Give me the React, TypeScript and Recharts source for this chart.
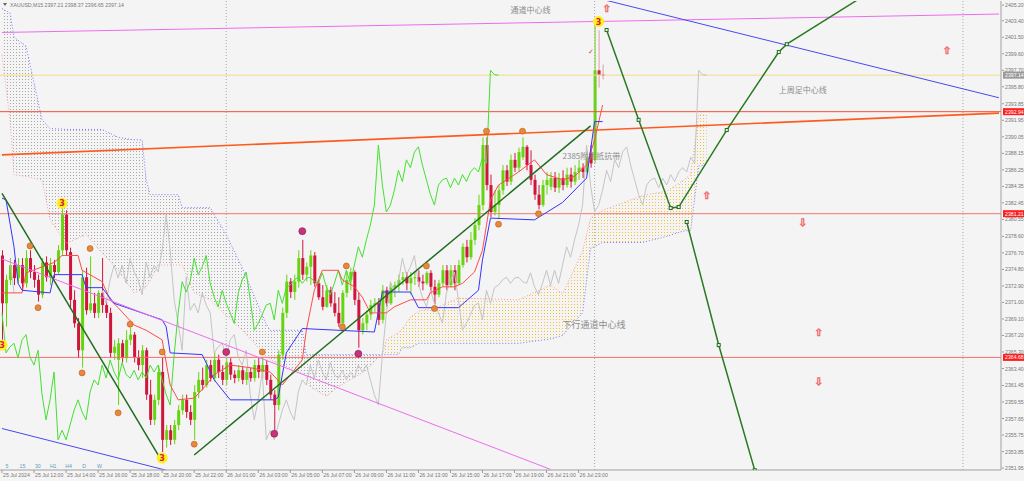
import React from 'react';
import { ComposedChart, Bar, Line, Area, XAxis, YAxis, ReferenceLine, ReferenceDot } from 'recharts';

// XAUUSD M15, 25 Jul 10:00 .. 26 Jul, plus 26-bar ichimoku shift to the right
const SLOTS = 250;

const OPEN = [
  2376.4, 2370.9, 2373.6, 2375.3, 2373.8, 2375.3, 2373.2, 2376.1, 2374.5, 2373.6,
  2371.9, 2375.6, 2373.9, 2375.3, 2374.5, 2377.0, 2381.1, 2376.8, 2371.3, 2368.6,
  2365.5, 2373.9, 2370.1, 2370.9, 2369.8, 2372.1, 2370.7, 2369.8, 2365.2, 2364.4,
  2366.3, 2364.6, 2366.7, 2367.3, 2364.7, 2363.8, 2365.5, 2360.4, 2357.5, 2359.8,
  2363.0, 2355.2, 2356.3, 2355.2, 2356.9, 2358.6, 2359.8, 2358.4, 2357.5, 2360.7,
  2362.1, 2361.5, 2363.8, 2362.3, 2364.4, 2363.0, 2362.1, 2364.1, 2362.7, 2362.3,
  2363.2, 2362.1, 2363.0, 2362.3, 2363.8, 2363.0, 2363.8, 2362.1, 2360.4, 2359.2,
  2365.0, 2369.8, 2373.4, 2372.2, 2373.4, 2376.1, 2374.2, 2375.1, 2376.4, 2373.2,
  2371.6, 2370.5, 2372.4, 2370.9, 2369.8, 2368.6, 2372.1, 2373.6, 2374.5, 2371.3,
  2367.8, 2368.6, 2369.6, 2370.7, 2370.9, 2369.0, 2372.4, 2370.9, 2372.7, 2373.0,
  2373.6, 2373.9, 2373.2, 2373.8, 2373.9, 2373.4, 2373.2, 2374.4, 2372.8, 2371.9,
  2373.2, 2374.7, 2373.0, 2374.7, 2373.2, 2375.3, 2377.4, 2376.2, 2378.2, 2379.9,
  2382.2, 2389.1, 2384.5, 2381.4, 2382.2, 2383.9, 2386.2, 2384.9, 2387.4, 2386.5,
  2387.7, 2388.9, 2386.8, 2385.1, 2383.4, 2382.2, 2384.5, 2384.3, 2385.3, 2384.2,
  2385.3, 2384.5, 2385.7, 2384.9, 2386.0, 2386.5, 2386.0, 2388.2, 2387.4, 2397.7,
  2397.21,
];
const HIGH = [
  2377.0, 2374.2, 2376.1, 2375.9, 2376.1, 2376.1, 2377.0, 2377.0, 2375.3, 2374.2,
  2376.1, 2376.3, 2376.1, 2375.9, 2377.6, 2382.0, 2381.6, 2377.3, 2372.4, 2369.2,
  2374.7, 2375.0, 2376.3, 2372.1, 2372.4, 2376.1, 2371.3, 2370.4, 2366.7, 2366.9,
  2366.7, 2367.8, 2368.1, 2367.6, 2365.5, 2366.1, 2365.8, 2362.1, 2360.4, 2363.8,
  2364.7, 2356.9, 2356.9, 2357.5, 2359.2, 2360.4, 2360.4, 2359.2, 2361.5, 2363.0,
  2363.5, 2364.4, 2364.4, 2365.3, 2365.0, 2363.8, 2364.7, 2364.6, 2363.2, 2363.8,
  2363.7, 2363.5, 2363.5, 2364.4, 2364.6, 2364.7, 2364.4, 2362.7, 2360.9, 2365.5,
  2370.4, 2374.2, 2373.8, 2374.2, 2377.0, 2378.2, 2375.6, 2377.0, 2376.8, 2373.6,
  2373.0, 2373.0, 2372.8, 2372.2, 2371.6, 2372.4, 2374.6, 2375.0, 2374.7, 2372.1,
  2369.2, 2370.1, 2371.3, 2371.5, 2371.5, 2373.0, 2372.8, 2373.2, 2373.4, 2374.2,
  2374.5, 2374.5, 2374.5, 2374.5, 2374.7, 2374.2, 2374.6, 2374.7, 2373.6, 2373.6,
  2375.3, 2375.3, 2375.3, 2375.3, 2375.9, 2377.8, 2378.2, 2379.1, 2380.7, 2383.4,
  2390.0, 2390.0, 2385.7, 2383.9, 2384.5, 2386.8, 2386.8, 2388.0, 2388.2, 2388.8,
  2390.0, 2389.1, 2388.5, 2385.7, 2384.5, 2385.1, 2386.0, 2386.0, 2386.0, 2385.9,
  2386.2, 2386.5, 2386.5, 2386.8, 2387.4, 2387.0, 2388.5, 2389.1, 2402.9, 2402.3,
  2398.37,
];
const LOW = [
  2366.7, 2368.2, 2373.0, 2373.0, 2373.2, 2372.4, 2372.7, 2373.8, 2372.7, 2371.1,
  2371.5, 2373.4, 2373.0, 2373.8, 2374.2, 2376.4, 2376.4, 2370.4, 2368.1, 2364.6,
  2363.5, 2369.6, 2369.8, 2369.2, 2369.2, 2369.8, 2369.2, 2364.6, 2364.4, 2359.2,
  2364.1, 2364.1, 2366.1, 2364.1, 2363.2, 2362.3, 2359.8, 2356.9, 2356.9, 2359.2,
  2353.8, 2354.3, 2354.6, 2354.7, 2356.3, 2358.1, 2357.7, 2356.9, 2355.2, 2360.0,
  2360.9, 2361.2, 2361.9, 2361.9, 2362.3, 2361.5, 2361.5, 2362.1, 2361.7, 2361.9,
  2361.6, 2361.5, 2361.9, 2361.9, 2362.3, 2362.3, 2361.5, 2359.8, 2356.3, 2358.6,
  2364.4, 2369.2, 2371.5, 2371.3, 2372.7, 2373.6, 2373.4, 2373.0, 2372.8, 2371.3,
  2370.1, 2370.4, 2370.5, 2369.4, 2368.2, 2368.6, 2371.6, 2372.4, 2370.7, 2365.8,
  2367.3, 2367.8, 2369.0, 2369.9, 2368.4, 2368.6, 2370.5, 2370.7, 2371.6, 2372.2,
  2373.0, 2372.4, 2371.9, 2373.0, 2372.8, 2372.4, 2373.0, 2372.2, 2370.8, 2371.6,
  2372.8, 2372.4, 2372.7, 2372.4, 2373.0, 2375.0, 2375.6, 2375.9, 2377.6, 2379.3,
  2381.6, 2383.9, 2380.8, 2381.0, 2380.6, 2383.4, 2384.4, 2384.5, 2386.0, 2386.0,
  2387.4, 2386.2, 2384.5, 2382.8, 2381.7, 2382.0, 2383.4, 2383.9, 2383.7, 2383.6,
  2383.9, 2384.2, 2384.2, 2384.5, 2385.1, 2385.3, 2385.7, 2386.5, 2387.0, 2395.7,
  2396.65,
];
const CLOSE = [
  2370.9, 2373.6, 2375.3, 2373.8, 2375.3, 2373.2, 2376.1, 2374.5, 2373.6, 2371.9,
  2375.6, 2373.9, 2375.3, 2374.5, 2377.0, 2381.1, 2377.0, 2371.3, 2368.6, 2365.5,
  2373.9, 2370.1, 2370.9, 2369.8, 2372.1, 2370.7, 2369.8, 2365.2, 2365.9, 2366.3,
  2364.6, 2366.7, 2367.3, 2364.7, 2363.8, 2365.5, 2360.4, 2357.5, 2359.8, 2363.0,
  2355.2, 2356.3, 2355.2, 2356.9, 2358.6, 2359.8, 2358.4, 2357.5, 2360.7, 2362.1,
  2361.5, 2363.8, 2362.3, 2364.4, 2363.0, 2362.1, 2364.1, 2362.7, 2362.3, 2363.2,
  2362.1, 2363.0, 2362.3, 2363.8, 2363.0, 2363.8, 2362.1, 2360.4, 2359.2, 2365.0,
  2369.8, 2373.4, 2372.2, 2373.4, 2376.1, 2374.2, 2375.1, 2376.4, 2373.2, 2371.6,
  2370.5, 2372.4, 2370.9, 2369.8, 2368.6, 2372.1, 2373.6, 2374.5, 2371.3, 2367.8,
  2368.6, 2369.6, 2370.7, 2370.9, 2369.0, 2372.4, 2370.9, 2372.7, 2373.0, 2373.6,
  2373.9, 2373.2, 2373.8, 2373.9, 2373.4, 2373.2, 2374.4, 2372.8, 2371.9, 2373.2,
  2374.7, 2373.0, 2374.7, 2373.2, 2375.3, 2377.4, 2376.2, 2378.2, 2379.9, 2382.2,
  2389.1, 2384.5, 2381.4, 2382.2, 2383.9, 2386.2, 2384.9, 2387.4, 2386.5, 2388.3,
  2388.9, 2386.8, 2385.1, 2383.4, 2382.2, 2384.5, 2385.1, 2385.3, 2384.2, 2385.3,
  2384.5, 2385.7, 2384.9, 2386.0, 2386.5, 2386.0, 2387.7, 2387.0, 2397.7, 2397.2,
  2397.14,
];
// closes from before the window, seen as the start of the forward-shifted grey line
const LAG_HISTORY = [
  [0, 2385.1], [2, 2376.0], [3, 2372.1], [6, 2375.0], [9, 2371.0], [12, 2373.5],
  [16, 2370.5], [19, 2372.8], [22, 2369.8], [25, 2372.4],
];

const X_LABELS = [
  '25 Jul 2024', '25 Jul 12:00', '25 Jul 14:00', '25 Jul 16:00', '25 Jul 18:00',
  '25 Jul 20:00', '25 Jul 22:00', '26 Jul 01:00', '26 Jul 03:00', '26 Jul 05:00',
  '26 Jul 07:00', '26 Jul 09:00', '26 Jul 11:00', '26 Jul 13:00', '26 Jul 15:00',
  '26 Jul 17:00', '26 Jul 19:00', '26 Jul 21:00', '26 Jul 23:00',
];
const Y_TICKS = [
  2405.2, 2403.4, 2401.5, 2399.6, 2397.7, 2395.8, 2393.85, 2391.95, 2390.05, 2388.15,
  2386.25, 2384.35, 2382.45, 2380.55, 2378.6, 2376.7, 2374.8, 2372.9, 2371.0, 2369.1,
  2367.2, 2365.3, 2363.4, 2361.45, 2359.55, 2357.65, 2355.75, 2353.85, 2351.95,
];
const PRICE_TAGS = [2397.14, 2392.94, 2381.21, 2364.68];

// ichimoku lines: [bar, price]
const TENKAN = [
  [0, 2372.1], [5, 2372.1], [6, 2374.4], [13, 2375.6], [15, 2376.4], [19, 2376.4], [20, 2374.7],
  [25, 2373.4], [27, 2371.3], [29, 2370.4], [33, 2368.4], [36, 2367.8], [40, 2366.7], [42, 2361.5],
  [44, 2359.8], [48, 2360.0], [51, 2361.5], [53, 2362.7], [57, 2363.8], [62, 2363.5], [67, 2363.0],
  [70, 2361.5], [75, 2364.4], [76, 2367.8], [78, 2372.4], [80, 2374.7], [84, 2374.7], [85, 2373.6],
  [88, 2372.8], [90, 2371.6], [92, 2369.8], [96, 2369.8], [98, 2370.5], [102, 2371.3], [106, 2371.3],
  [107, 2372.1], [110, 2372.8], [113, 2372.8], [115, 2373.2], [118, 2374.5], [120, 2377.0],
  [121, 2379.9], [122, 2382.8], [124, 2384.5], [129, 2386.0], [133, 2387.4], [136, 2385.7],
  [140, 2385.1], [143, 2385.5], [146, 2386.8], [148, 2389.7], [150, 2393.7],
];
const KIJUN = [
  [0, 2383.0], [1, 2382.8], [3, 2377.4], [4, 2373.2], [5, 2372.4], [12, 2372.1], [13, 2374.2],
  [20, 2374.2], [21, 2372.7], [25, 2372.7], [28, 2370.9], [40, 2369.0], [41, 2368.2], [42, 2365.2],
  [50, 2365.0], [53, 2362.1], [57, 2359.8], [68, 2359.8], [69, 2360.1], [71, 2365.2], [75, 2368.0],
  [93, 2367.6], [95, 2372.2], [102, 2372.2], [104, 2370.4], [114, 2370.4], [119, 2372.4],
  [120, 2375.9], [122, 2380.7], [133, 2380.5], [140, 2382.5], [146, 2385.3], [148, 2391.8],
  [150, 2391.8],
];
// cloud: [bar, span A, span B]
const CLOUD = [
  [0, 2399.5, 2404.8], [2, 2392.0, 2404.3], [3, 2385.7, 2401.5], [6, 2385.5, 2400.5],
  [10, 2385.1, 2392.0], [12, 2380.5, 2391.0], [16, 2377.8, 2390.9], [21, 2378.8, 2390.9],
  [25, 2376.7, 2390.9], [29, 2374.7, 2390.0], [33, 2372.1, 2389.7], [35, 2372.5, 2389.7],
  [36, 2372.8, 2385.1], [37, 2373.5, 2383.4], [39, 2375.3, 2383.4], [44, 2375.3, 2383.4],
  [45, 2375.3, 2381.9], [48, 2372.1, 2381.9], [52, 2371.3, 2381.9], [56, 2369.5, 2378.8],
  [60, 2367.8, 2375.0], [66, 2364.8, 2368.5], [67, 2364.4, 2367.8], [75, 2362.9, 2367.8],
  [76, 2362.5, 2365.0], [77, 2361.3, 2365.0], [81, 2360.2, 2365.0], [84, 2361.3, 2365.0],
  [91, 2363.2, 2365.0], [94, 2364.7, 2365.0], [95, 2365.0, 2365.0], [96, 2366.7, 2365.0],
  [99, 2367.5, 2365.0], [100, 2368.0, 2365.8], [102, 2369.3, 2365.8], [104, 2370.0, 2366.3],
  [109, 2370.5, 2366.3], [114, 2371.5, 2366.3], [129, 2371.3, 2366.3], [137, 2373.0, 2366.8],
  [140, 2372.0, 2367.2], [145, 2376.9, 2369.8], [147, 2380.7, 2377.2], [150, 2381.6, 2377.9],
  [160, 2383.3, 2377.9], [166, 2383.8, 2378.6], [170, 2385.0, 2379.2], [172, 2385.7, 2379.3],
  [174, 2392.6, 2386.7], [176, 2392.5, 2386.8],
];

// drawn objects: [bar, price]
const PINK_TOP = [[0, 2402.05], [249, 2404.17]];
const PINK_CHANNEL = [[0, 2376.0], [137, 2351.8]];
const ORANGE_TREND = [[0, 2387.97], [249, 2392.77]];
const BLUE_TOP = [[151, 2405.73], [249, 2394.54]];
const BLUE_BOTTOM = [[0, 2356.5], [41, 2351.7]];
const GREEN_DOWN = [[0, 2383.55], [40, 2352.7]];
const GREEN_UP = [[48, 2353.45], [147, 2391.3]];
const PROJ_UP = [[151, 2402.33], [159, 2392.0], [167, 2381.86], [169, 2381.97], [181, 2390.83], [194, 2399.8], [196, 2400.7], [214, 2405.9]];
const PROJ_DOWN = [[171, 2380.25], [179, 2366.1], [188, 2351.7]];
const SEPARATORS = [56, 148, 240];

const WAVE3 = [[0, 2366.1], [15, 2382.4], [40, 2353.1], [149, 2403.3]];
const FRACTALS = [
  [7, 2377.5], [9, 2370.4], [20, 2362.9], [22, 2377.2], [29, 2358.3], [32, 2368.5], [40, 2365.3],
  [48, 2354.7], [65, 2365.3], [85, 2368.2], [86, 2375.2], [106, 2375.2], [108, 2370.3],
  [121, 2390.7], [124, 2380.0], [130, 2390.7], [134, 2381.2],
];
const PIVOTS = [[56, 2365.3], [68, 2355.9], [75, 2379.2], [89, 2365.1]];
const ARROWS_UP = [[151, 2404.86], [236, 2400.03], [176, 2383.36], [204, 2367.6]];
const ARROWS_DOWN = [[200, 2380.25], [204, 2361.97]];
const NOTES = [
  { bar: 127, price: 2404.6, text: '通道中心线' },
  { bar: 194, price: 2395.4, text: '上周足中心线' },
  { bar: 140, price: 2387.8, text: '2385附近抵抗带' },
  { bar: 140, price: 2368.4, text: '下行通道中心线' },
];
const PERIODS = ['5', '15', '30', 'H1', 'H4', 'D', 'W'];

const Y_MIN = 2351.73;
const Y_MAX = 2405.67;

const GREEN = '#66d40e';
const RED = '#d0143c';

const rows: any[] = Array.from({ length: SLOTS }, (_, i) => ({ i }));
OPEN.forEach((o, i) => {
  Object.assign(rows[i], { o, h: HIGH[i], l: LOW[i], c: CLOSE[i], candle: [LOW[i], HIGH[i]], last: i >= OPEN.length - 2 });
});
LAG_HISTORY.forEach(([i, v]) => { rows[i].lagged = v; });
CLOSE.forEach((c, i) => {
  if (i >= 26) rows[i - 26].chikou = c;
  rows[i + 26].lagged = c;
});
const put = (key: string, pts: number[][]) => pts.forEach(([i, v]) => { rows[i][key] = v; });
put('tenkan', TENKAN);
put('kijun', KIJUN);
put('pinkTop', PINK_TOP);
put('pinkChannel', PINK_CHANNEL);
put('orange', ORANGE_TREND);
put('blueTop', BLUE_TOP);
put('blueBottom', BLUE_BOTTOM);
put('greenDown', GREEN_DOWN);
put('greenUp', GREEN_UP);
put('projUp', PROJ_UP);
put('projDown', PROJ_DOWN);
CLOUD.forEach(([i, a, b]) => {
  rows[i].spanA = a;
  rows[i].spanB = b;
  if (b >= a) rows[i].bear = [a, b];
  if (a >= b) rows[i].bull = [b, a];
});

const Candle = (p: any) => {
  const { x, y, width, height, payload } = p;
  if (payload == null || payload.o == null) return null;
  const { o, h, l, c } = payload;
  const k = h === l ? 0 : height / (h - l);
  const yo = y + (h - o) * k;
  const yc = y + (h - c) * k;
  let col = c >= o ? GREEN : RED;
  if (payload.last) col = '#e59aa6';
  const cx = x + width / 2;
  return (
    <g>
      <line x1={cx} x2={cx} y1={y} y2={y + height} stroke={col} strokeWidth={1} />
      <rect x={x} y={Math.min(yo, yc)} width={width} height={Math.max(1, Math.abs(yo - yc))} fill={payload.last ? '#c8283c' : col} />
    </g>
  );
};

const XTick = (p: any) => {
  const { x, y, payload } = p;
  const i = Number(payload.value);
  if (i % 8 !== 0 || i / 8 >= X_LABELS.length) return null;
  return (
    <g>
      <line x1={x} x2={x} y1={y - 5} y2={y - 2} stroke="#999" />
      <text x={x + 1} y={y + 2} fontSize={5.2} fill="#777" fontFamily="Liberation Sans, Arial">{X_LABELS[i / 8]}</text>
    </g>
  );
};

const YTick = (p: any) => {
  const { x, y, payload } = p;
  const v = Number(payload.value);
  const tag = PRICE_TAGS.indexOf(v);
  if (tag >= 0) {
    return (
      <g>
        <rect x={x - 2} y={y - 3.5} width={24} height={7} fill={tag === 0 ? '#9a9a9a' : '#ff1e1e'} />
        <text x={x} y={y + 2} fontSize={5.2} fill="#fff" fontFamily="Liberation Sans, Arial">{v.toFixed(2)}</text>
      </g>
    );
  }
  return (
    <g>
      <line x1={x - 3} x2={x - 1} y1={y} y2={y} stroke="#999" />
      <text x={x} y={y + 2} fontSize={5.2} fill="#777" fontFamily="Liberation Sans, Arial">{v.toFixed(2)}</text>
    </g>
  );
};

const Wave3 = (p: any) => (
  <g>
    <circle cx={p.cx} cy={p.cy} r={5.5} fill="#ffef1a" />
    <text x={p.cx} y={p.cy + 3} fontSize={8} fontWeight="bold" fill="#d21f3c" textAnchor="middle" fontFamily="DejaVu Sans">3</text>
  </g>
);
const Fractal = (p: any) => <circle cx={p.cx} cy={p.cy} r={3} fill="#e8883a" stroke="#b85a18" strokeWidth={0.6} />;
const Pivot = (p: any) => <circle cx={p.cx} cy={p.cy} r={3.5} fill="#c8327a" stroke="#8a1450" strokeWidth={0.6} />;
const Arrow = (ch: string) => (p: any) => (
  <text x={p.cx} y={p.cy + 4} fontSize={10} fill="#fbe4e4" stroke="#f06868" strokeWidth={0.6} textAnchor="middle" fontFamily="DejaVu Sans">{ch}</text>
);
const Square = (p: any) => {
  if (p.value == null) return null;
  return <rect key={p.index} x={p.cx - 1.5} y={p.cy - 1.5} width={3} height={3} fill="#f4f4f4" stroke="#1f6e1f" strokeWidth={1} />;
};
const Note = (text: string, size: number) => (p: any) => (
  <text x={p.cx} y={p.cy + 3} fontSize={size} fill="#8c8c8c" fontFamily="Noto Sans CJK SC">{text}</text>
);

const lineProps = { dot: false, connectNulls: true, isAnimationActive: false, activeDot: false } as const;

export default function App() {
  return (
    <div style={{ position: 'absolute', left: 0, top: 0, width: 1024, height: 481, background: '#f4f4f4', overflow: 'hidden' }}>
      <svg width={0} height={0} style={{ position: 'absolute' }}>
        <defs>
          <pattern id="dotsGray" width={3} height={3} patternUnits="userSpaceOnUse">
            <rect x={1} y={1} width={1} height={1} fill="#a9a9a9" />
          </pattern>
          <pattern id="dotsGold" width={3} height={3} patternUnits="userSpaceOnUse">
            <rect x={1} y={1} width={1} height={1} fill="#f0c040" />
          </pattern>
        </defs>
      </svg>
      <ComposedChart width={1024} height={481} data={rows} margin={{ top: 1, right: 0, bottom: 0, left: 0 }}>
        <XAxis dataKey="i" type="category" interval={0} tick={<XTick />} tickSize={3} tickMargin={2}
          tickLine={false} axisLine={{ stroke: '#a0a0a0' }} height={11} />
        <YAxis orientation="right" type="number" domain={[Y_MIN, Y_MAX]} allowDataOverflow width={23}
          ticks={[...Y_TICKS, ...PRICE_TAGS]} interval={0} tick={<YTick />} tickSize={3} tickMargin={1}
          tickLine={false} axisLine={{ stroke: '#a0a0a0' }} />

        <Area dataKey="bear" fill="url(#dotsGray)" stroke="none" fillOpacity={1} {...lineProps} />
        <Area dataKey="bull" fill="url(#dotsGold)" stroke="none" fillOpacity={1} {...lineProps} />
        <Line dataKey="spanA" stroke="#f4a0a0" strokeDasharray="1 2" strokeWidth={1} {...lineProps} />
        <Line dataKey="spanB" stroke="#7878ff" strokeDasharray="1 2" strokeWidth={1} {...lineProps} />

        {SEPARATORS.map((i) => (
          <ReferenceLine key={i} x={i} stroke="#a8a8a8" strokeDasharray="1 2" />
        ))}
        <ReferenceLine y={PRICE_TAGS[0]} stroke="#f2dc86" />
        <ReferenceLine y={PRICE_TAGS[1]} stroke="#f25030" />
        <ReferenceLine y={PRICE_TAGS[2]} stroke="#f07a72" />
        <ReferenceLine y={PRICE_TAGS[3]} stroke="#f27070" />

        <Line dataKey="lagged" stroke="#c4c4c4" strokeWidth={1} {...lineProps} connectNulls={false} />
        <Line dataKey="chikou" stroke="#44e030" strokeWidth={1} {...lineProps} connectNulls={false} />
        <Line dataKey="tenkan" stroke="#ff4a4a" strokeWidth={1} {...lineProps} />
        <Line dataKey="kijun" stroke="#3434ff" strokeWidth={1} {...lineProps} />

        <Line dataKey="pinkTop" stroke="#ee6cee" strokeWidth={1} {...lineProps} />
        <Line dataKey="pinkChannel" stroke="#ee6cee" strokeWidth={1} {...lineProps} />
        <Line dataKey="blueTop" stroke="#4848f0" strokeWidth={1} {...lineProps} />
        <Line dataKey="blueBottom" stroke="#4848f0" strokeWidth={1} {...lineProps} />
        <Line dataKey="orange" stroke="#ff5a1e" strokeWidth={1.6} {...lineProps} />

        <Bar dataKey="candle" barSize={3} shape={<Candle />} isAnimationActive={false} />

        <Line dataKey="greenDown" stroke="#1f6e1f" strokeWidth={1.5} {...lineProps} />
        <Line dataKey="greenUp" stroke="#1f6e1f" strokeWidth={1.5} {...lineProps} />
        <Line dataKey="projUp" stroke="#2a7a22" strokeWidth={1.5} {...lineProps} dot={<Square />} />
        <Line dataKey="projDown" stroke="#2a7a22" strokeWidth={1.5} {...lineProps} dot={<Square />} />

        {FRACTALS.map(([i, v], k) => (
          <ReferenceDot key={'f' + k} x={i} y={v} shape={Fractal} />
        ))}
        {PIVOTS.map(([i, v], k) => (
          <ReferenceDot key={'p' + k} x={i} y={v} shape={Pivot} />
        ))}
        {WAVE3.map(([i, v], k) => (
          <ReferenceDot key={'w' + k} x={i} y={v} shape={Wave3} ifOverflow="visible" />
        ))}
        {ARROWS_UP.map(([i, v], k) => (
          <ReferenceDot key={'au' + k} x={i} y={v} shape={Arrow('⇧')} />
        ))}
        {ARROWS_DOWN.map(([i, v], k) => (
          <ReferenceDot key={'ad' + k} x={i} y={v} shape={Arrow('⇩')} />
        ))}
        <ReferenceDot x={147} y={2399.9} shape={(p: any) => (
          <text x={p.cx} y={p.cy + 3} fontSize={7} fill="#e04040" textAnchor="middle">✓</text>
        )} />
        {NOTES.map((n, k) => (
          <ReferenceDot key={'n' + k} x={n.bar} y={n.price} shape={Note(n.text, k === 3 ? 9 : 8)} />
        ))}
      </ComposedChart>
      <svg width={1024} height={481} style={{ position: 'absolute', left: 0, top: 0, pointerEvents: 'none' }}>
        <path d="M3 3 L7 3 L5 6 Z" fill="#666" />
        <text x={10} y={7} fontSize={5.2} fill="#777" fontFamily="Liberation Sans, Arial">XAUUSD,M15  2397.21 2398.37 2396.65 2397.14</text>
        {PERIODS.map((t, k) => (
          <text key={t} x={7 + k * 15.4} y={468} fontSize={5.2} fill="#5aa0c0" textAnchor="middle" fontFamily="Liberation Sans, Arial">{t}</text>
        ))}
      </svg>
    </div>
  );
}
